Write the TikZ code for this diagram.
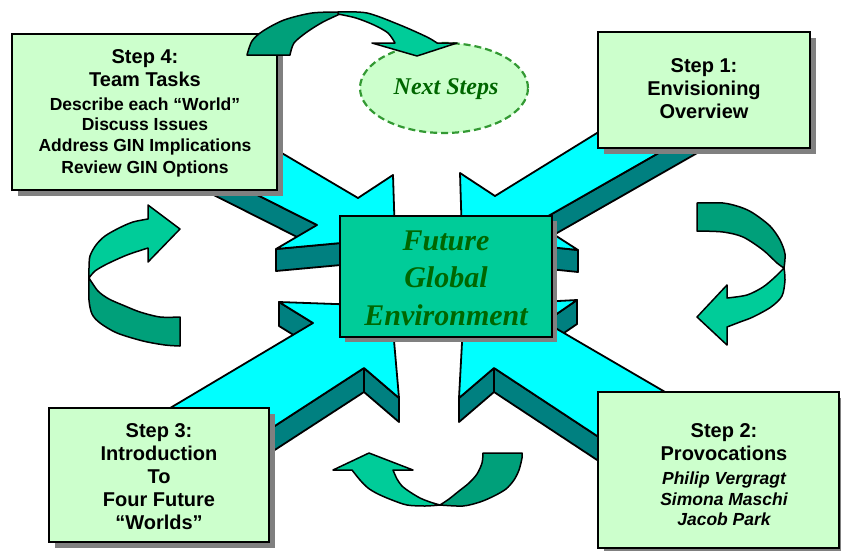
\documentclass[tikz,border=0pt]{standalone}
\usepackage{fontspec}
\setmainfont{Liberation Sans}
\newfontfamily\timesfont{Liberation Serif}
\usetikzlibrary{shapes.geometric,shadows}
\definecolor{facecyan}{HTML}{00FFFF}
\definecolor{sideteal}{HTML}{008080}
\definecolor{paleGreen}{HTML}{CCFFCC}
\definecolor{mint}{HTML}{00CC99}
\definecolor{mintdark}{HTML}{00A07A}
\definecolor{leafgreen}{HTML}{006600}
\definecolor{dashgreen}{HTML}{339933}
\definecolor{shadowgray}{HTML}{808080}
\begin{document}
\begin{tikzpicture}[x=1pt,y=-1pt,
  topface/.style={fill=facecyan,draw=black,line width=1.8pt,line join=round},
  sideface/.style={fill=sideteal,draw=black,line width=1.8pt,line join=round},
  boxshade/.style={drop shadow={shadow xshift=6pt,shadow yshift=-6pt,fill=shadowgray,opacity=1}},
  stepbox/.style={rectangle,fill=paleGreen,draw=black,line width=1.4pt,inner sep=0pt,boxshade},
  steplabel/.style={align=center,font=\bfseries\fontsize{20}{23}\selectfont,text=black,inner sep=0pt},
  ribbonlight/.style={fill=mint,draw=black,line width=1.5pt,line join=round},
  ribbondark/.style={fill=mintdark,draw=black,line width=1.5pt,line join=round}
]
\useasboundingbox (0,0) rectangle (841,550);

% ---- four block arrows pointing at the centre (side faces first, then top faces)
% upper left
\path[sideface] (317,225) -- (180,156) -- (180,178) -- (317,247) -- cycle;
\path[sideface] (395,238) -- (276,249) -- (276,271) -- (395,260) -- cycle;
\path[topface] (180,93) -- (358,198) -- (393,175) -- (395,238) -- (276,249) -- (317,225) -- (180,156) -- cycle;
% upper right
\path[sideface] (536,223) -- (720,118) -- (720,140) -- (536,245) -- cycle;
\path[sideface] (462,238) -- (578,250) -- (578,272) -- (462,260) -- cycle;
\path[topface] (720,57) -- (495,196) -- (460,173) -- (462,238) -- (578,250) -- (536,223) -- (720,118) -- cycle;
% lower left
\path[sideface] (313,323) -- (279,302) -- (279,326) -- (313,347) -- cycle;
\path[sideface] (364,368) -- (150,507) -- (150,531) -- (364,392) -- cycle;
\path[sideface] (399,398) -- (364,368) -- (364,392) -- (399,422) -- cycle;
\path[topface] (150,420) -- (313,323) -- (279,302) -- (391,306) -- (399,398) -- (364,368) -- (150,507) -- cycle;
% lower right
\path[sideface] (545,322) -- (577,300) -- (577,324) -- (545,346) -- cycle;
\path[sideface] (494,368) -- (720,517) -- (720,541) -- (494,392) -- cycle;
\path[sideface] (459,398) -- (494,368) -- (494,392) -- (459,422) -- cycle;
\path[topface] (720,424) -- (545,322) -- (577,300) -- (464,306) -- (459,398) -- (494,368) -- (720,517) -- cycle;

% ---- boxes
\node[stepbox,minimum width=265pt,minimum height=156pt] (box4) at (144.5,112) {};
\node[stepbox,minimum width=212pt,minimum height=116pt] (box1) at (704,90) {};
\node[stepbox,minimum width=220pt,minimum height=134pt] (box3) at (159,475) {};
\node[stepbox,minimum width=241pt,minimum height=156pt] (box2) at (718.5,470) {};
\node[rectangle,fill=mint,draw=black,line width=1.4pt,inner sep=0pt,
      minimum width=212pt,minimum height=121pt,
      drop shadow={shadow xshift=5pt,shadow yshift=-5pt,fill=shadowgray,opacity=1}] (core) at (446,276.5) {};

% ---- next steps bubble
\node[ellipse,fill=paleGreen,draw=dashgreen,line width=2.2pt,dash pattern=on 7pt off 4pt,
      minimum width=168pt,minimum height=90pt,inner sep=0pt] (next) at (444,88) {};

% ---- curved cycle arrows
% top: from step 4 over to next steps
\path[ribbondark] plot[smooth] coordinates {(247,55) (252,41) (263,31) (284,20) (312,13) (340,12)}
  -- plot[smooth] coordinates {(340,14) (323,22) (307,32) (294,43) (290,55)} -- cycle;
\path[ribbonlight] plot[smooth] coordinates {(338,12) (367,13) (400,25) (427,37) (437,43)}
  -- (457,43) -- (417,56) -- (372,43) -- (395,43)
  -- plot[smooth] coordinates {(395,43) (388,33) (374,25) (356,18) (338,14)} -- cycle;
% left
\path[ribbondark] plot[smooth] coordinates {(89,278) (89,300) (92,314) (100,323) (117,333) (143,341) (165,345) (180,346)}
  -- (180,317)
  -- plot[smooth] coordinates {(180,317) (160,317) (140,312) (125,306) (109,299) (98,291) (89,278)} -- cycle;
\path[ribbonlight] plot[smooth] coordinates {(148,219) (133,222) (119,228) (105,236) (96,245) (90,256) (89,268) (89,278)}
  -- plot[smooth] coordinates {(89,278) (95,271) (107,264) (127,255) (148,248)}
  -- (148,262) -- (180,229) -- (148,205) -- cycle;
% right
\path[ribbondark] plot[smooth] coordinates {(697,203) (723,203) (740,207) (753,213) (770,226) (780,240) (785,254) (784,268)}
  -- plot[smooth] coordinates {(784,268) (777,263) (763,250) (743,237) (723,232) (697,231)} -- cycle;
\path[ribbonlight] plot[smooth] coordinates {(784,268) (785,280) (782,296) (771,307) (753,317) (740,322) (727,327)}
  -- (727,345) -- (697,317) -- (727,285) -- (727,298)
  -- plot[smooth] coordinates {(727,298) (747,295) (763,287) (775,277) (784,268)} -- cycle;
% bottom
\path[ribbondark] plot[smooth] coordinates {(440,505) (463,506) (480,502) (494,496) (506,489) (514,480) (519,470) (522,458) (522,453)}
  -- (483,453)
  -- plot[smooth] coordinates {(483,453) (482,463) (477,474) (469,483) (459,491) (449,499) (440,505)} -- cycle;
\path[ribbonlight] plot[smooth] coordinates {(352,470) (360,480) (368,488) (378,494) (392,500) (407,505) (425,506) (440,505)}
  -- plot[smooth] coordinates {(440,505) (430,502) (420,498) (410,492) (402,486) (397,479) (393,470)}
  -- (413,470) -- (369,453) -- (333,470) -- cycle;

% ---- texts
\node[steplabel] (label4) at (145,113.5) {Step 4:\\
  Team Tasks\\[1pt]
  \fontsize{17.5}{21}\selectfont Describe each “World”\\[-3pt]
  \fontsize{17.5}{21}\selectfont Discuss Issues\\[-2pt]
  \fontsize{17.5}{21}\selectfont Address GIN Implications\\[-1pt]
  \fontsize{17.5}{21}\selectfont Review GIN Options};
\node[steplabel] (label1) at (704,89) {Step 1:\\Envisioning\\Overview};
\node[steplabel] (label3) at (159,477) {Step 3:\\Introduction\\To\\Four Future\\“Worlds”};
\node[steplabel] (label2) at (724,475) {Step 2:\\
  Provocations\\[1pt]
  \fontsize{17.5}{21}\selectfont\itshape Philip Vergragt\\[-2pt]
  \fontsize{17.5}{21}\selectfont\itshape Simona Maschi\\[-3pt]
  \fontsize{17.5}{21}\selectfont\itshape Jacob Park};
\node[align=center,text=leafgreen,inner sep=0pt,
      font=\timesfont\bfseries\itshape\fontsize{30}{37.5}\selectfont] (coretext) at (446,278)
  {Future\\Global\\Environment};
\node[text=leafgreen,inner sep=0pt,
      font=\timesfont\bfseries\itshape\fontsize{24}{28}\selectfont] (nexttext) at (446,89) {Next Steps};
\end{tikzpicture}
\end{document}
